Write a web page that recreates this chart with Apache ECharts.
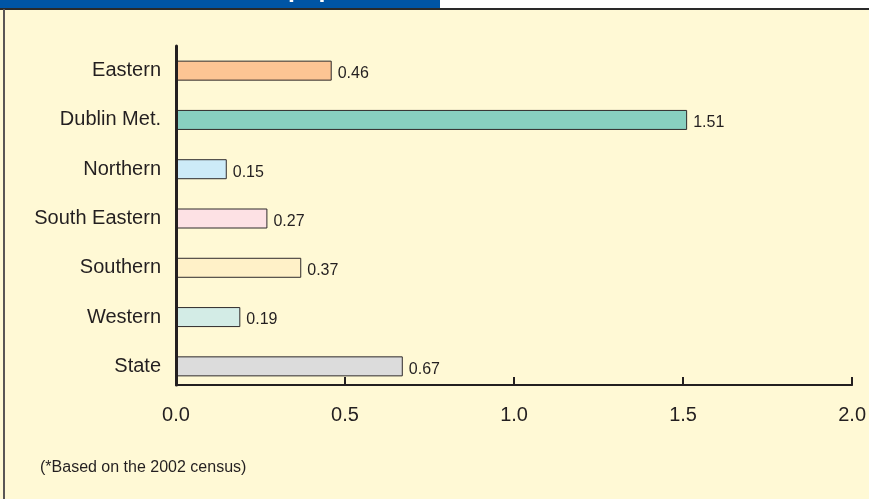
<!DOCTYPE html>
<html>
<head>
<meta charset="utf-8">
<script src="https://cdn.jsdelivr.net/npm/echarts@6/dist/echarts.min.js"></script>
<style>
  html, body { margin: 0; padding: 0; background: #FFF9D5; }
  #chart { width: 869px; height: 499px; }
</style>
</head>
<body>
<div id="chart"></div>
<script>
// ---- data ----
const categories = ['Eastern', 'Dublin Met.', 'Northern', 'South Eastern', 'Southern', 'Western', 'State'];
const values = [0.46, 1.51, 0.15, 0.27, 0.37, 0.19, 0.67];
const xTicks = [0, 0.5, 1.0, 1.5, 2.0];
const footnote = '(*Based on the 2002 census)';
const titleFragment = 'population';

// ---- styles ----
const barColors = ['#FDC594', '#88D0C0', '#CDEBF8', '#FDE1E4', '#FFF1C8', '#D3ECE6', '#DCDCDC'];
const ink = '#231f20';
const font = '"Liberation Sans", Arial, Helvetica, sans-serif';

const chart = echarts.init(document.getElementById('chart'), null, { renderer: 'canvas' });

const option = {
  backgroundColor: '#FFF9D5',
  animation: false,
  grid: [
    { left: 176, right: 16, top: 46, height: 345, containLabel: false },
    { left: 176, right: 16, top: 46, height: 339, containLabel: false }
  ],
  xAxis: [
    { gridIndex: 0, type: 'value', min: xTicks[0], max: xTicks[xTicks.length - 1], interval: 0.5, show: false },
    {
      gridIndex: 1, type: 'value', min: xTicks[0], max: xTicks[xTicks.length - 1], interval: 0.5, z: 10,
      axisLine: { show: true, onZero: false, lineStyle: { color: ink, width: 2 } },
      axisTick: { show: true, inside: true, length: 8, lineStyle: { color: ink, width: 2 } },
      splitLine: { show: false },
      axisLabel: {
        color: ink, fontSize: 20, fontFamily: font, margin: 20,
        formatter: v => Number(v).toFixed(1)
      }
    }
  ],
  yAxis: [
    {
      gridIndex: 0, type: 'category', data: categories, inverse: true,
      axisLine: { show: false }, axisTick: { show: false },
      axisLabel: { color: ink, fontSize: 20, fontFamily: font, margin: 15 }
    },
    {
      gridIndex: 1, type: 'category', data: categories, inverse: true, z: 10,
      axisLine: { show: true, onZero: false, lineStyle: { color: ink, width: 3 } },
      axisTick: { show: false }, axisLabel: { show: false }
    }
  ],
  series: [
    {
      type: 'bar',
      xAxisIndex: 0, yAxisIndex: 0,
      barWidth: 20,
      data: values.map((v, i) => ({
        value: v,
        itemStyle: { color: barColors[i], borderColor: '#2e2a2b', borderWidth: 1 }
      })),
      label: {
        show: true, position: 'right', distance: 6, offset: [0, 3],
        color: ink, fontSize: 16, fontFamily: font,
        formatter: p => p.value.toFixed(2)
      }
    }
  ],
  graphic: [
    { type: 'rect', left: 0, top: 0, shape: { width: 440, height: 9 }, style: { fill: '#0055A5' }, z: 10 },
    { type: 'rect', left: 440, top: 0, shape: { width: 429, height: 9 }, style: { fill: '#FFFFFF' }, z: 10 },
    {
      type: 'text', x: 288, y: -10, z: 11,
      style: { text: titleFragment, fill: '#FFFFFF', font: 'bold 25px ' + font, verticalAlign: 'middle', align: 'left' }
    },
    { type: 'rect', left: 0, top: 8, shape: { width: 869, height: 2 }, style: { fill: '#2a2a2a' }, z: 12 },
    { type: 'rect', left: 3, top: 9, shape: { width: 2, height: 490 }, style: { fill: '#5a5655' }, z: 12 },
    {
      type: 'text', left: 40, top: 460, z: 10,
      style: { text: footnote, fill: ink, font: '16px ' + font }
    }
  ]
};

chart.setOption(option);
</script>
</body>
</html>
